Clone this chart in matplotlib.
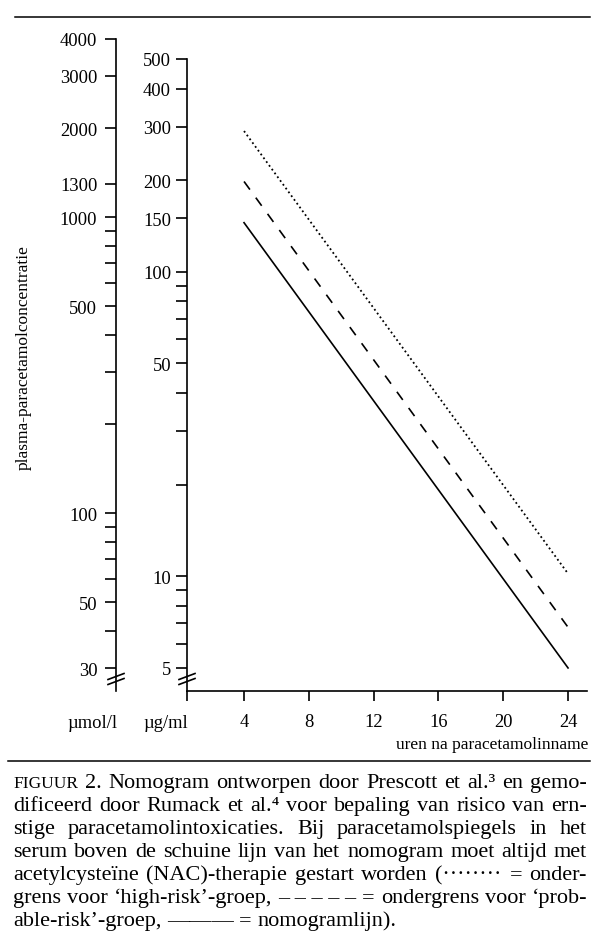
import matplotlib
matplotlib.use('Agg')
import matplotlib.pyplot as plt
from matplotlib.lines import Line2D

plt.rcParams['font.family'] = ['Liberation Serif', 'DejaVu Serif']

# data
hours = [4, 24]
high_risk = [290, 10.2]       # dotted
probable_risk = [198, 6.8]    # dashed
nomogram = [145, 5]           # solid

x_ticks = [4, 8, 12, 16, 20, 24]
ugml_ticks = [5, 6, 7, 8, 9, 10, 20, 30, 40, 50, 60, 70, 80, 90, 100, 150, 200, 300, 400, 500]
ugml_labels = ['5', '', '', '', '', '10', '', '', '', '50', '', '', '', '', '100', '150', '200', '300', '400', '500']
umol_ticks = [30, 40, 50, 60, 70, 80, 90, 100, 200, 300, 400, 500, 600, 700, 800, 900, 1000, 1300, 2000, 3000, 4000]
umol_labels = ['30', '', '50', '', '', '', '', '100', '', '', '', '500', '', '', '', '', '1000', '1300', '2000', '3000', '4000']

caption = [
    "FIGUUR 2. Nomogram ontworpen door Prescott et al.\u00b3 en gemo-",
    "dificeerd door Rumack et al.\u2074 voor bepaling van risico van ern-",
    "stige paracetamolintoxicaties. Bij paracetamolspiegels in het",
    "serum boven de schuine lijn van het nomogram moet altijd met",
    "acetylcyste\u00efne (NAC)-therapie gestart worden (\u00b7\u00b7\u00b7\u00b7\u00b7\u00b7\u00b7\u00b7 = onder-",
    "grens voor \u2018high-risk\u2019-groep, \u2013\u00a0\u2013\u00a0\u2013\u00a0\u2013\u00a0\u2013 = ondergrens voor \u2018prob-",
    "able-risk\u2019-groep, \u2014\u2014\u2014 = nomogramlijn).",
]

W, H = 600, 945
fig = plt.figure(figsize=(W / 100, H / 100), dpi=100)
lw = 1.2

# main axes (ug/ml)
ax = fig.add_axes([187 / W, 1 - 692 / H, 400 / W, 632 / H])
ax.set_yscale('log')
ax.set_ylim(4.2, 500)
ax.set_xlim(0.48, 25.17)
ax.plot(hours, high_risk, color='black', lw=1.3, linestyle=(0, (1, 1.6)))
ax.plot(hours, probable_risk, color='black', lw=1.2, linestyle=(0, (6, 6)))
ax.plot(hours, nomogram, color='black', lw=1.2)
ax.set_yticks(ugml_ticks, ugml_labels)
ax.minorticks_off()
xmin = ax.get_xlim()[0]
ax.set_xticks([xmin] + x_ticks, [''] + [str(t) for t in x_ticks])
for s in ['top', 'right']:
    ax.spines[s].set_visible(False)
for s in ['left', 'bottom']:
    ax.spines[s].set_linewidth(lw)
ax.tick_params(axis='y', direction='out', length=8, width=lw, pad=3.5, labelsize=13.3)
ax.tick_params(axis='x', direction='out', length=7.5, width=lw, pad=8.5, labelsize=13.3)

# left axes (umol/l)
ax2 = fig.add_axes([116 / W, 1 - 692 / H, 0.01, 652 / H])
ax2.set_yscale('log')
ax2.set_ylim(25.1, 4000)
ax2.set_yticks(umol_ticks, umol_labels)
ax2.minorticks_off()
ax2.set_xticks([])
for s in ['top', 'right', 'bottom']:
    ax2.spines[s].set_visible(False)
ax2.spines['left'].set_linewidth(lw)
ax2.patch.set_visible(False)
ax2.tick_params(axis='y', direction='out', length=8, width=lw, pad=5.5, labelsize=13.3)

# axis break marks
for a in [ax, ax2]:
    p = a.get_position()
    yb = p.y0 + 12 / H
    for k in [-2.5, 2.5]:
        fig.add_artist(Line2D([p.x0 - 8 / W, p.x0 + 8 / W],
                              [yb + (k - 3) / H, yb + (k + 3) / H],
                              transform=fig.transFigure, color='black', lw=lw))

# unit labels and axis titles
ylab = 1 - 724 / H
fig.text(ax2.get_position().x0 + 2 / W, ylab, '\u00b5mol/l', ha='right', va='center', fontsize=13.3)
fig.text(ax.get_position().x0 + 1 / W, ylab, '\u00b5g/ml', ha='right', va='center', fontsize=13.3)
fig.text(588 / W, 1 - 745 / H, 'uren na paracetamolinname', ha='right', va='center', fontsize=12.5)
fig.text(24 / W, 1 - 358 / H, 'plasma-paracetamolconcentratie', rotation=90,
         ha='center', va='center', fontsize=12.5)

# rules
fig.add_artist(Line2D([15 / W, 590 / W], [1 - 18 / H] * 2, transform=fig.transFigure, color='black', lw=1.1))
fig.add_artist(Line2D([8 / W, 590 / W], [1 - 762 / H] * 2, transform=fig.transFigure, color='black', lw=1.1))

# justified caption
renderer = fig.canvas.get_renderer()
cap_fs = 16
left_px, right_px = 13, 587
for i, line in enumerate(caption):
    yb = 1 - (788 + i * 23) / H
    objs = []
    for w in line.split(' '):
        fs = cap_fs * 0.78 if w == 'FIGUUR' else cap_fs
        objs.append(fig.text(0, yb, w, fontsize=fs, ha='left', va='baseline'))
    widths = [o.get_window_extent(renderer).width for o in objs]
    if i < len(caption) - 1:
        gap = (right_px - left_px - sum(widths)) / (len(objs) - 1)
    else:
        gap = cap_fs * 100 / 72 * 0.25
    x = left_px
    for o, w in zip(objs, widths):
        o.set_x(x / W)
        x += w + gap

fig.savefig('out.png', dpi=100)
